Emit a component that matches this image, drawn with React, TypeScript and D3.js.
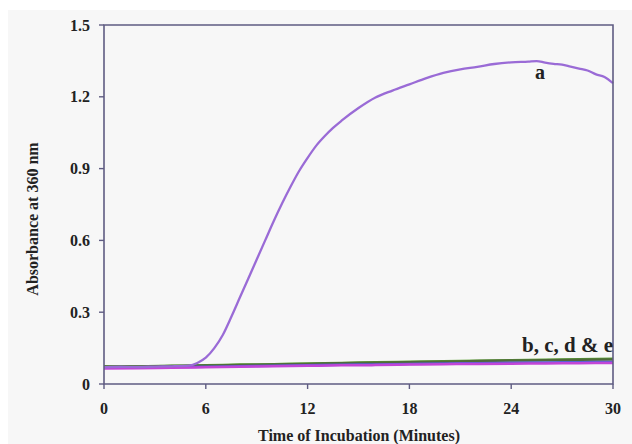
import React from "react";
import * as d3 from "d3";

const W = 632;
const H = 444;

const xTicks = [0, 6, 12, 18, 24, 30];
const yTicks = [0, 0.3, 0.6, 0.9, 1.2, 1.5];
const yTickLabels = ["0", "0.3", "0.6", "0.9", "1.2", "1.5"];

const aTime = [0, 1, 2, 3, 4, 5, 5.5, 6, 6.5, 7, 7.5, 8, 8.5, 9, 9.5, 10, 10.5, 11, 11.5, 12, 12.5, 13, 13.5, 14, 15, 16, 17, 18, 19, 20, 21, 22, 23, 24, 25, 25.5, 26, 26.5, 27, 27.5, 28, 28.5, 29, 29.5, 30];
const aValues = [0.07, 0.072, 0.071, 0.073, 0.074, 0.077, 0.088, 0.11, 0.15, 0.205, 0.28, 0.36, 0.44, 0.52, 0.6, 0.68, 0.755, 0.825, 0.89, 0.945, 0.995, 1.035, 1.07, 1.1, 1.153, 1.197, 1.226, 1.252, 1.278, 1.3, 1.315, 1.325, 1.337, 1.344, 1.347, 1.349, 1.343, 1.338, 1.334, 1.326, 1.318, 1.31, 1.294, 1.283, 1.257];

const baseTime = [0, 2, 4, 6, 8, 10, 12, 14, 16, 18, 20, 22, 24, 26, 28, 30];
const bValues = [0.074, 0.074, 0.076, 0.078, 0.081, 0.083, 0.086, 0.088, 0.091, 0.093, 0.095, 0.097, 0.099, 0.101, 0.103, 0.105];
const cValues = [0.072, 0.073, 0.075, 0.077, 0.079, 0.082, 0.084, 0.087, 0.089, 0.091, 0.093, 0.096, 0.098, 0.099, 0.101, 0.102];
const dValues = [0.068, 0.069, 0.071, 0.072, 0.074, 0.076, 0.078, 0.08, 0.082, 0.084, 0.086, 0.087, 0.089, 0.09, 0.091, 0.092];
const eValues = [0.065, 0.066, 0.068, 0.07, 0.072, 0.074, 0.076, 0.078, 0.079, 0.081, 0.083, 0.084, 0.085, 0.086, 0.087, 0.088];

const baseSeries = [
  { name: "b", values: bValues, color: "#5aa032" },
  { name: "c", values: cValues, color: "#4f6b3a" },
  { name: "d", values: dValues, color: "#5b5fd8" },
  { name: "e", values: eValues, color: "#c245d6" },
];

const left = 104;
const right = 613;
const top = 25;
const bottom = 384;

const font = "Liberation Serif, Times New Roman, serif";
const textStyle: React.CSSProperties = { fontFamily: font, fontWeight: 700 };

export default function App() {
  const x = d3.scaleLinear().domain([0, 30]).range([left, right]);
  const y = d3.scaleLinear().domain([0, 1.5]).range([bottom, top]);
  const line = d3
    .line<[number, number]>()
    .x((d) => x(d[0]))
    .y((d) => y(d[1]))
    .curve(d3.curveMonotoneX);

  const aPts: [number, number][] = aTime.map((t, i) => [t, aValues[i]]);
  const axisColor = "#5f5c82";

  return (
    <svg
      width={W}
      height={H}
      style={{ position: "absolute", left: 0, top: 0, background: "#ffffff" }}
    >
      <rect x={8} y={10} width={W - 8} height={H - 10} fill="#f7f7f7" />
      {baseSeries.map((s) => (
        <path
          key={s.name}
          d={line(baseTime.map((t, i) => [t, s.values[i]] as [number, number])) || ""}
          fill="none"
          stroke={s.color}
          strokeWidth={2.5}
        />
      ))}
      <path d={line(aPts) || ""} fill="none" stroke="#9a6bd6" strokeWidth={2.3} />
      <path
        d={`M${left},${top}H${right}V${bottom}H${left}Z`}
        fill="none"
        stroke={axisColor}
        strokeWidth={1.6}
      />
      {yTicks.map((v, i) => (
        <g key={v}>
          <line x1={left - 5} x2={left} y1={y(v)} y2={y(v)} stroke={axisColor} strokeWidth={1.4} />
          <text
            x={left - 14}
            y={y(v)}
            dy="0.35em"
            textAnchor="end"
            style={textStyle}
            fontSize={16}
            fill="#222"
          >
            {yTickLabels[i]}
          </text>
        </g>
      ))}
      {xTicks.map((v) => (
        <g key={v}>
          <line x1={x(v)} x2={x(v)} y1={bottom} y2={bottom + 5} stroke={axisColor} strokeWidth={1.4} />
          <text
            x={x(v)}
            y={414}
            textAnchor="middle"
            style={textStyle}
            fontSize={16}
            fill="#222"
          >
            {v}
          </text>
        </g>
      ))}
      <text
        x={359}
        y={441}
        textAnchor="middle"
        style={textStyle}
        fontSize={16}
        fill="#222"
      >
        Time of Incubation (Minutes)
      </text>
      <text
        transform={`translate(38,${219}) rotate(-90)`}
        textAnchor="middle"
        style={textStyle}
        fontSize={16}
        fill="#222"
      >
        Absorbance at 360 nm
      </text>
      <text x={540} y={79} textAnchor="middle" style={textStyle} fontSize={20} fill="#222">
        a
      </text>
      <text x={right} y={352} textAnchor="end" style={textStyle} fontSize={21} fill="#222">
        b, c, d &amp; e
      </text>
    </svg>
  );
}
